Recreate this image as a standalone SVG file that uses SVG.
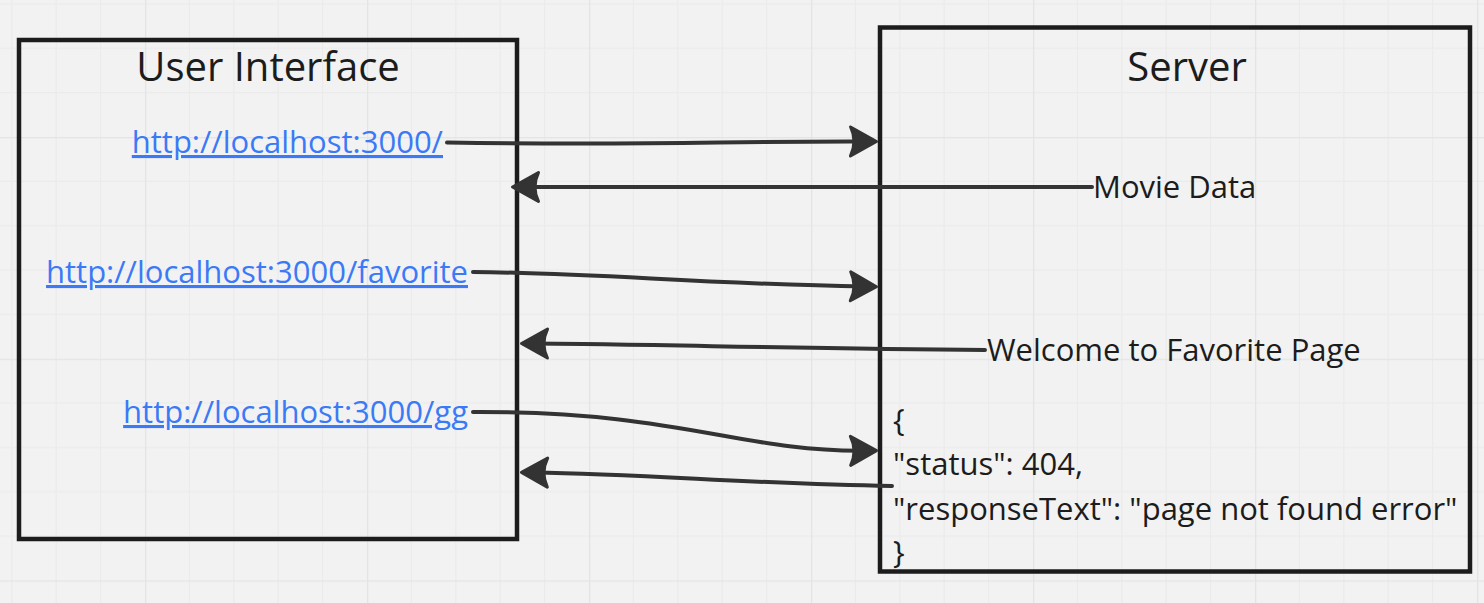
<svg xmlns="http://www.w3.org/2000/svg" width="1484" height="603" viewBox="0 0 1484 603">
  <style>
    .box { fill: none; stroke: #1c1c1c; stroke-width: 4.5; }
    .title { font-family: "Open Sans", "Noto Sans", sans-serif; font-size: 40px; fill: #1c1c1c; text-anchor: middle; }
    .lbl { font-family: "Open Sans", "Noto Sans", sans-serif; font-size: 31px; fill: #1c1c1c; }
    .url { font-family: "Open Sans", "Noto Sans", sans-serif; font-size: 31px; fill: #3b7af7; text-anchor: end; text-decoration: underline; }
    .conn { fill: none; stroke: #333333; stroke-width: 4; stroke-linecap: round; marker-end: url(#head); }
  </style>
  <defs>
    <pattern id="grid" x="145" y="137" width="222" height="221.7" patternUnits="userSpaceOnUse">
      <g stroke="#ebebeb" stroke-width="1.2">
        <line x1="44.4" y1="0" x2="44.4" y2="221.7"/>
        <line x1="88.8" y1="0" x2="88.8" y2="221.7"/>
        <line x1="133.2" y1="0" x2="133.2" y2="221.7"/>
        <line x1="177.6" y1="0" x2="177.6" y2="221.7"/>
        <line x1="0" y1="44.3" x2="222" y2="44.3"/>
        <line x1="0" y1="88.7" x2="222" y2="88.7"/>
        <line x1="0" y1="133" x2="222" y2="133"/>
        <line x1="0" y1="177.4" x2="222" y2="177.4"/>
      </g>
      <g stroke="#e4e4e4" stroke-width="1.6">
        <line x1="0.5" y1="0" x2="0.5" y2="221.7"/>
        <line x1="0" y1="0.5" x2="222" y2="0.5"/>
      </g>
    </pattern>
    <marker id="head" markerUnits="userSpaceOnUse" markerWidth="40" markerHeight="40" viewBox="-4 -20 36 40" refX="14.5" refY="0" orient="auto">
      <path d="M0,-14.5 L26,0 L0,14.5 Q7,0 0,-14.5 Z" fill="#333333" stroke="#333333" stroke-width="3" stroke-linejoin="round"/>
    </marker>
  </defs>
  <rect width="1484" height="603" fill="#f2f2f2"/>
  <rect width="1484" height="603" fill="url(#grid)"/>

  <g id="user-interface">
    <rect class="box" x="19" y="40" width="498" height="499"/>
    <text class="title" x="268" y="81">User Interface</text>
    <text class="url" x="443" y="153">http://localhost:3000/</text>
    <text class="url" x="468" y="283">http://localhost:3000/favorite</text>
    <text class="url" x="468" y="423">http://localhost:3000/gg</text>
  </g>

  <g id="server">
    <rect class="box" x="880" y="27.5" width="590" height="544"/>
    <text class="title" x="1187" y="81">Server</text>
    <text class="lbl" x="893" y="431">{</text>
    <text class="lbl" x="893" y="475">"status": 404,</text>
    <text class="lbl" x="893" y="519.5">"responseText": "page not found error"</text>
    <text class="lbl" x="893" y="563">}</text>
  </g>

  <g id="label-movie-data">
    <text class="lbl" x="1093" y="197.5">Movie Data</text>
  </g>
  <g id="label-welcome">
    <text class="lbl" x="987" y="360.5">Welcome to Favorite Page</text>
  </g>

  <g id="connectors">
    <path class="conn" d="M447,142.5 C650,146 720,141 865,141.5"/>
    <path class="conn" d="M1092,187 L524,187"/>
    <path class="conn" d="M473,272 C600,273 700,284 865,286.5"/>
    <path class="conn" d="M985,350 C800,349 650,344 533,343.5"/>
    <path class="conn" d="M473,412 C680,411 740,452 865,450.7"/>
    <path class="conn" d="M892,486 C750,484 650,474 533,472.5"/>
  </g>
</svg>
